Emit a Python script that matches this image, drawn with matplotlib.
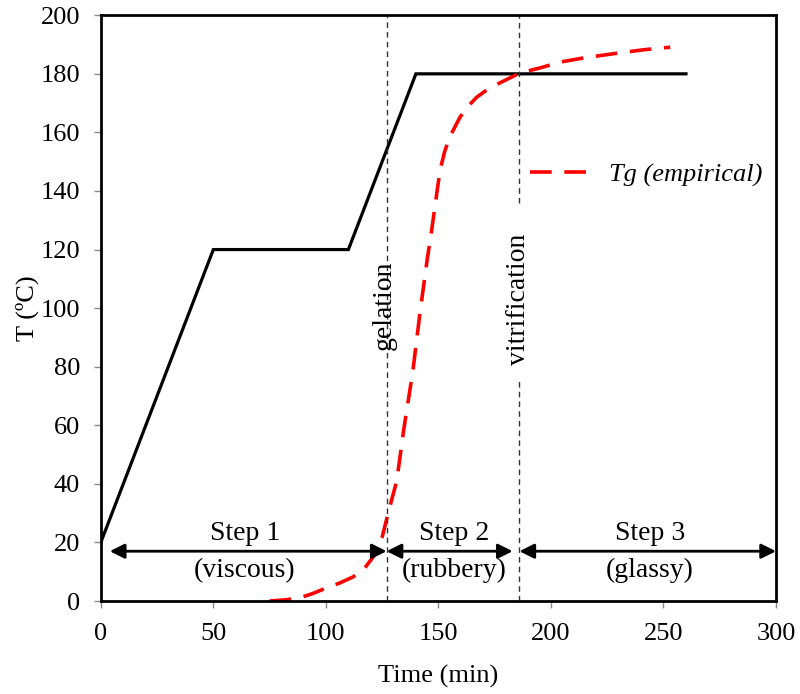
import numpy as np
import matplotlib
matplotlib.use("Agg")
import matplotlib.pyplot as plt

plt.rcParams['font.family'] = ['Liberation Serif', 'DejaVu Serif']

# Cure cycle (temperature program)
cure_time = [0, 50, 110, 140, 260]
cure_temp = [20, 120, 120, 180, 180]

# Empirical Tg curve
tg_time = [75, 82, 88, 94, 100, 106, 112, 117, 121, 125, 128, 131.5, 134.5,
           138.7, 141.8, 145, 147, 150.7, 152.8, 155, 159.6, 163, 167, 172,
           177, 186, 196.5, 204, 215, 229, 241, 253]
tg_temp = [0, 0.4, 1, 2.5, 4.4, 6.1, 8.2, 11, 15, 21.8, 31, 41, 58,
           78.8, 98.3, 116.5, 126.6, 147, 153.5, 158.4, 165.2, 168.8, 172, 174.8,
           176.8, 180.2, 182.3, 184, 185.5, 187, 188.2, 189.1]

# Transition times
t_gel = 127
t_vit = 186

# Step annotations: (start, end, label x, title, state)
steps = [
    (4, t_gel, 64, 'Step 1', '(viscous)'),
    (t_gel, 183, 157, 'Step 2', '(rubbery)'),
    (t_vit, 300, 244, 'Step 3', '(glassy)'),
]

fig = plt.figure(figsize=(8, 6.94), dpi=100)
ax = fig.add_axes([0.126, 0.134, 0.844, 0.844])

ax.plot(cure_time, cure_temp, color='black', lw=2.3, solid_joinstyle='miter')
ax.plot(tg_time, tg_temp, color='red', lw=2.6, dashes=(6, 3.5),
        label='Tg (empirical)')

# gelation / vitrification lines
ax.vlines(t_gel, 0, 200, colors='#333333', lw=1, linestyles=(0, (4, 3)))
ax.vlines(t_vit, 136, 200, colors='#333333', lw=1, linestyles=(0, (4, 3)))
ax.vlines(t_vit, 0, 75, colors='#333333', lw=1, linestyles=(0, (4, 3)))
ax.text(t_gel - 1, 101, 'gelation', rotation=90, ha='center', va='center',
        fontsize=20)
ax.text(t_vit - 0.5, 103, 'vitrification', rotation=90, ha='center',
        va='center', fontsize=20)

for x0, x1, xt, title, state in steps:
    ax.annotate('', xy=(x0, 17), xytext=(x1, 17),
                arrowprops=dict(arrowstyle='<|-|>', color='black', lw=2,
                                mutation_scale=22, shrinkA=0, shrinkB=0))
    ax.text(xt, 23, title, ha='center', va='center', fontsize=20)
    ax.text(xt, 10.5, state, ha='center', va='center', fontsize=20)

leg = ax.legend(frameon=False, loc='center left', bbox_to_anchor=(0.6, 0.727),
                handlelength=2.6, handletextpad=0.4,
                prop={'style': 'italic', 'size': 19})

ax.set_xlim(0, 300)
ax.set_ylim(0, 200)
ax.set_xticks(np.arange(0, 301, 50))
ax.set_yticks(np.arange(0, 201, 20))
ax.tick_params(direction='out', length=5, width=1, color='#888888',
               labelsize=19)
ax.tick_params(axis='x', pad=11)
ax.tick_params(axis='y', pad=10)
for s in ax.spines.values():
    s.set_linewidth(2)
ax.set_xlabel('Time (min)', fontsize=19, labelpad=14)
ax.set_ylabel('T (ºC)', fontsize=19, labelpad=1)

fig.savefig('out.png', dpi=100)
